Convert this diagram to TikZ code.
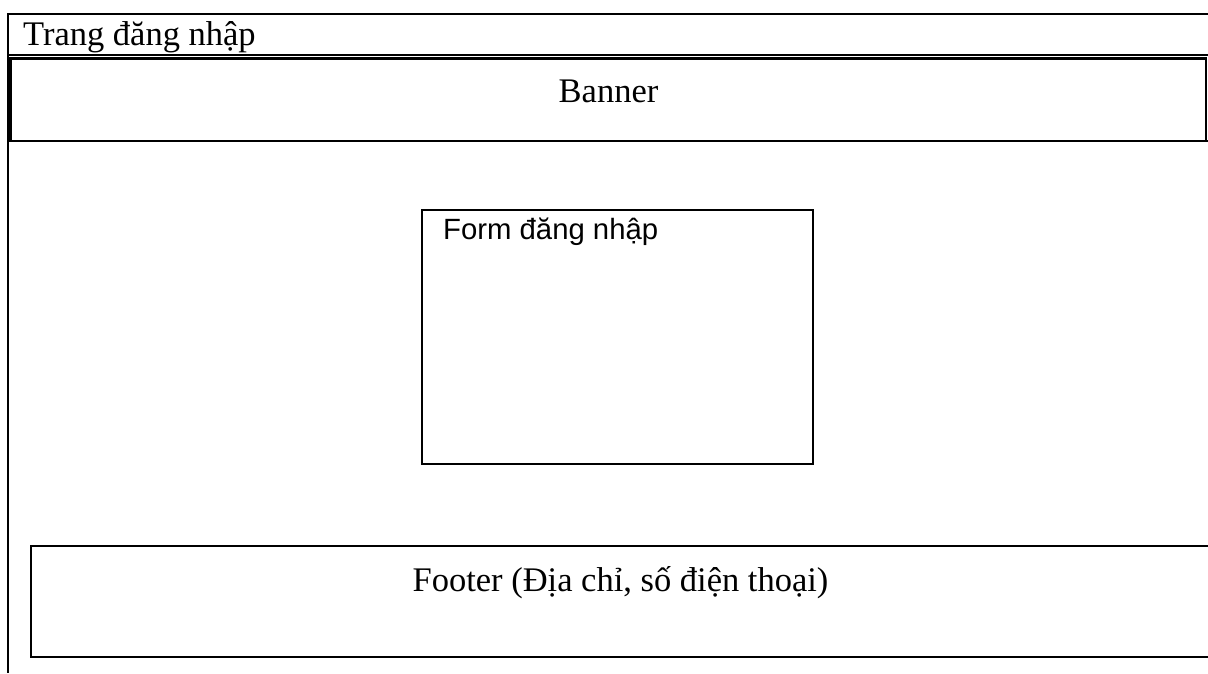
\documentclass[tikz,border=0pt]{standalone}
\usepackage{fontspec}
\setmainfont{Liberation Serif}
\newfontfamily\formfont{Liberation Sans}
\begin{document}
\begin{tikzpicture}[x=1pt,y=-1pt,
  frameline/.style={line width=2.5pt,black},
  boxline/.style={line width=2.4pt,black},
  serifbig/.style={inner sep=0pt,font=\fontsize{34.5}{40}\selectfont},
  sansbig/.style={inner sep=0pt,font=\formfont\fontsize{29.3}{34}\selectfont}]
\useasboundingbox (0,0) rectangle (1208,673);
% page frame: top edge, left edge and title divider
\draw[frameline] (1208,14) -- (8,14) -- (8,673);
\draw[frameline] (8,55) -- (1208,55);
\node[serifbig,anchor=base west] (title) at (23,45.5) {Trang đăng nhập};
% banner strip
\draw[boxline] (9.5,58.5) rectangle (1206,141);
\draw[line width=4pt] (10,57.5) -- (10,142);
\draw[boxline] (1206,141) -- (1208,141);
\node[serifbig,anchor=base] (banner) at (608.5,102) {Banner};
% login form
\draw[boxline] (422,210) rectangle (813,464);
\node[sansbig,anchor=base west] (form) at (443,239) {Form đăng nhập};
% footer strip
\draw[boxline] (1210,546) -- (31,546) -- (31,657) -- (1210,657);
\node[serifbig,anchor=base] (footer) at (620.5,591) {Footer (Địa chỉ, số điện thoại)};
\end{tikzpicture}
\end{document}
